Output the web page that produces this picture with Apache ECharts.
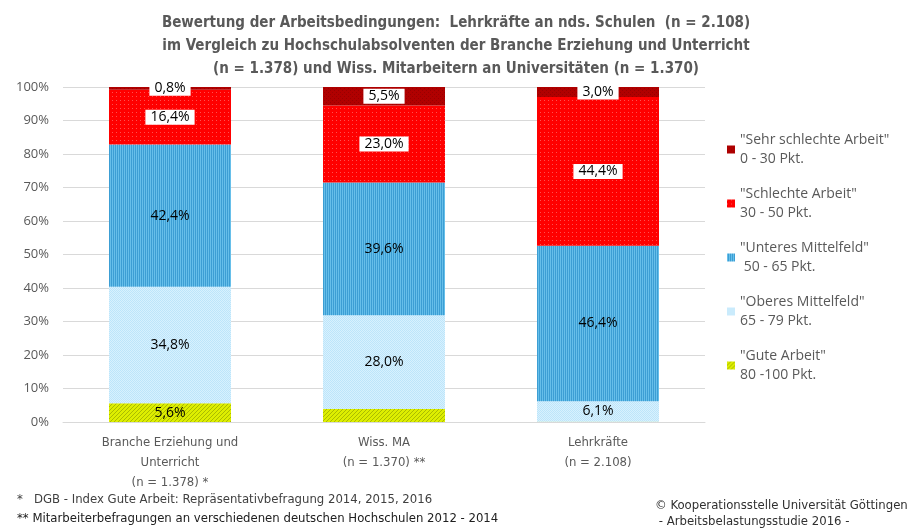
<!DOCTYPE html>
<html><head><meta charset="utf-8">
<script src="https://cdn.jsdelivr.net/npm/echarts@6/dist/echarts.min.js"></script>
<style>html,body{margin:0;padding:0;background:#fff}#c{width:912px;height:530px}</style>
</head><body><div id="c"></div>
<script>
const categories = ['Branche Erziehung und\nUnterricht\n(n = 1.378) *', 'Wiss. MA\n(n = 1.370) **', 'Lehrkräfte\n(n = 2.108)'];
const seriesNames = ['"Gute Arbeit"', '"Oberes Mittelfeld"', '"Unteres Mittelfeld"', '"Schlechte Arbeit"', '"Sehr schlechte Arbeit"'];
const seriesRanges = ['80 -100 Pkt.', '65 - 79 Pkt.', ' 50 - 65 Pkt.', '30 - 50 Pkt.', '0 - 30 Pkt.'];
const gute = [5.6, 3.9, 0.1];
const oberes = [34.8, 28.0, 6.1];
const unteres = [42.4, 39.6, 46.4];
const schlecht = [16.4, 23.0, 44.4];
const sehrSchlecht = [0.8, 5.5, 3.0];
const yTicks = [0, 10, 20, 30, 40, 50, 60, 70, 80, 90, 100];

function pat(w, h, draw) {
  const c = document.createElement('canvas'); c.width = w; c.height = h;
  const g = c.getContext('2d'); draw(g); return {image: c, repeat: 'repeat'};
}
const pRed = pat(4, 4, g => { g.fillStyle = '#FF0000'; g.fillRect(0,0,4,4); g.fillStyle = '#FF5050'; g.fillRect(0,0,1,1); });
const pDark = pat(4, 4, g => { g.fillStyle = '#B00000'; g.fillRect(0,0,4,4); g.fillStyle = '#980000'; g.fillRect(0,0,1,1); g.fillRect(2,2,1,1); });
const pBlue = pat(2, 2, g => { g.fillStyle = '#66BFEA'; g.fillRect(0,0,2,2); g.fillStyle = '#3C9ED4'; g.fillRect(1,0,1,2); });
const pLight = pat(2, 2, g => { g.fillStyle = '#D8F1FE'; g.fillRect(0,0,2,2); g.fillStyle = '#BDE5FA'; g.fillRect(0,0,1,1); g.fillRect(1,1,1,1); });
const pGreen = pat(4, 4, g => { g.fillStyle = '#DDEE00'; g.fillRect(0,0,4,4); g.fillStyle = '#AABB00';
  for (let i = 0; i < 4; i++) { g.fillRect(i, 3 - i, 1, 1); } });

const colors = [pGreen, pLight, pBlue, pRed, pDark];
const values = [gute, oberes, unteres, schlecht, sehrSchlecht];
const fmt = v => v.toFixed(1).replace('.', ',') + '%';
const labelFont = '"Open Sans", "Noto Sans", sans-serif';
const narrow = '"Liberation Sans Narrow", "DejaVu Sans Condensed", sans-serif';

const series = values.map((vals, i) => ({
  name: seriesNames[i],
  type: 'bar',
  stack: 'total',
  barWidth: 122,
  itemStyle: {color: colors[i]},
  data: vals,
  label: {
    show: true,
    position: 'inside',
    color: '#000',
    fontFamily: labelFont,
    fontSize: 14,
    backgroundColor: i >= 3 ? '#ffffff' : 'transparent',
    padding: i >= 3 ? [1, 5, 0, 5] : 0,
    formatter: p => (i === 0 && p.value < 5) ? '' : fmt(p.value)
  }
}));

const rangeMap = {};
seriesNames.forEach((n, i) => rangeMap[n] = seriesRanges[i]);

const chart = echarts.init(document.getElementById('c'));
chart.setOption({
  animation: false,
  title: [
    {text: 'Bewertung der Arbeitsbedingungen:  Lehrkräfte an nds. Schulen  (n = 2.108)\nim Vergleich zu Hochschulabsolventen der Branche Erziehung und Unterricht\n(n = 1.378) und Wiss. Mitarbeitern an Universitäten (n = 1.370)',
     left: 'center', top: 7,
     textStyle: {fontFamily: narrow, fontWeight: 'bold', fontSize: 15, lineHeight: 23, color: '#595959', align: 'center'}},
    {text: '*   DGB - Index Gute Arbeit: Repräsentativbefragung 2014, 2015, 2016', left: 12, top: 488,
     textStyle: {fontFamily: narrow, fontWeight: 'normal', fontSize: 13, color: '#404040'}},
    {text: '** Mitarbeiterbefragungen an verschiedenen deutschen Hochschulen 2012 - 2014', left: 12, top: 507,
     textStyle: {fontFamily: narrow, fontWeight: 'normal', fontSize: 13, color: '#202020'}},
    {text: '© Kooperationsstelle Universität Göttingen\n - Arbeitsbelastungsstudie 2016 -', left: 650, top: 493,
     textStyle: {fontFamily: narrow, fontWeight: 'normal', fontSize: 13, lineHeight: 16, color: '#303030'}}
  ],
  legend: {
    orient: 'vertical',
    left: 722, top: 116,
    data: seriesNames.slice().reverse(),
    itemWidth: 8, itemHeight: 8,
    itemGap: -3,
    icon: 'rect',
    formatter: n => n + '\n' + rangeMap[n],
    textStyle: {fontFamily: labelFont, fontSize: 14, lineHeight: 19, color: '#595959', padding: [19, 0, 0, 0]}
  },
  grid: {left: 63, right: 207, top: 87, bottom: 108},
  xAxis: {
    type: 'category', data: categories,
    axisLine: {lineStyle: {color: '#D9D9D9'}},
    axisTick: {show: false},
    axisLabel: {color: '#595959', fontFamily: narrow, fontSize: 13, lineHeight: 20, margin: 11, interval: 0}
  },
  yAxis: {
    type: 'value', min: yTicks[0], max: yTicks[yTicks.length - 1], interval: 10,
    axisLine: {show: false}, axisTick: {show: false},
    splitLine: {lineStyle: {color: '#D9D9D9'}},
    axisLabel: {color: '#595959', fontFamily: labelFont, fontSize: 13, margin: 14, formatter: '{value}%'}
  },
  series: series
});
</script></body></html>
